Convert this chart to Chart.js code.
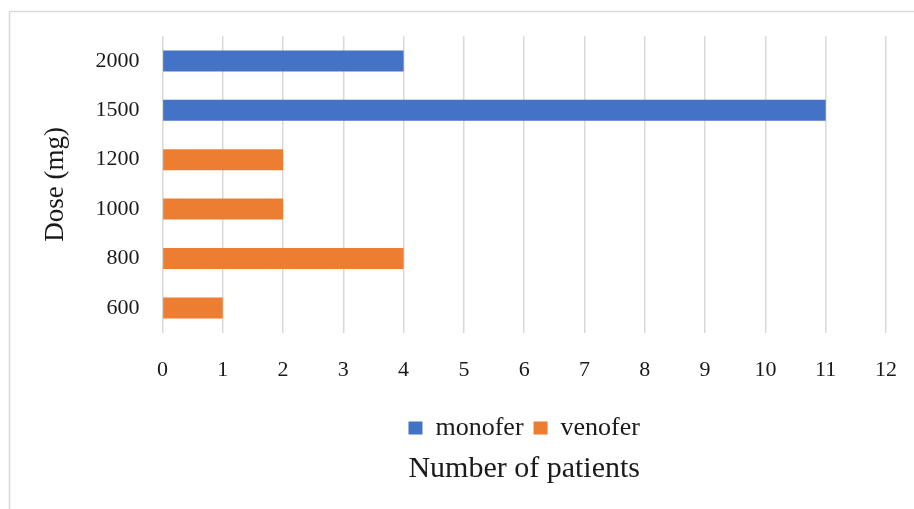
<!DOCTYPE html>
<html>
<head>
<meta charset="utf-8">
<script src="https://cdn.jsdelivr.net/npm/chart.js@4.4.1/dist/chart.umd.min.js"></script>
<style>
  html, body { margin: 0; padding: 0; background: #fff; }
  #wrap { position: relative; width: 914px; height: 509px; }
</style>
</head>
<body>
<div id="wrap"><canvas id="myChart" width="914" height="509"></canvas></div>
<script>
"use strict";

// doses, top to bottom as in the picture
let doseLabels = ["2000", "1500", "1200", "1000", "800", "600"];
let monoferPatients = [4, 11, null, null, null, null];
let venoferPatients = [null, null, 2, 2, 4, 1];
let xTicks = [0, 1, 2, 3, 4, 5, 6, 7, 8, 9, 10, 11, 12];

const serif = "'Liberation Serif', 'Times New Roman', serif";
const textColor = "#1a1a1a";

// light frame round the chart (its right and bottom edges are off the picture)
const framePlugin = {
  id: "frame",
  beforeDraw(chart) {
    const ctx = chart.ctx;
    ctx.save();
    ctx.fillStyle = "#fff";
    ctx.fillRect(0, 0, chart.width, chart.height);
    ctx.strokeStyle = "#d9d9d9";
    ctx.lineWidth = 1.5;
    ctx.strokeRect(9.5, 11.5, 1200, 1200);
    ctx.restore();
  },
};

const data = {
  labels: doseLabels,
  datasets: [
    {
      label: "monofer",
      data: monoferPatients,
      backgroundColor: "#4472C4",
      borderWidth: 0,
    },
    {
      label: "venofer",
      data: venoferPatients,
      backgroundColor: "#ED7D31",
      borderWidth: 0,
    },
  ],
};

const config = {
  type: "bar",
  data: data,
  plugins: [framePlugin],
  options: {
    indexAxis: "y",
    responsive: false,
    animation: false,
    categoryPercentage: 0.5,
    barPercentage: 0.85,
    layout: {
      padding: { left: 36, top: 36, right: 28, bottom: 22 },
    },
    scales: {
      x: {
        stacked: true,
        min: 0,
        max: 12,
        afterBuildTicks: (scale) => {
          scale.ticks = xTicks.map((v) => ({ value: v }));
        },
        afterFit: (scale) => {
          scale.height -= 2;
          // the tick padding is only wanted below the plot, not at the ends
          scale.paddingLeft = 0;
          scale.paddingRight = 0;
        },
        grid: { color: "#d9d9d9", lineWidth: 1.5, drawTicks: false },
        border: { display: false },
        ticks: {
          padding: 24,
          color: textColor,
          font: { family: serif, size: 22 },
        },
      },
      y: {
        stacked: true,
        grid: { display: false, drawTicks: false },
        border: { display: false },
        ticks: {
          padding: 23,
          color: textColor,
          font: { family: serif, size: 22 },
        },
        title: {
          display: true,
          text: "Dose (mg)",
          color: textColor,
          font: { family: serif, size: 27 },
          padding: { top: 4, bottom: 0 },
        },
      },
    },
    plugins: {
      legend: {
        position: "bottom",
        fullSize: false,
        labels: {
          boxWidth: 14,
          boxHeight: 13,
          padding: 10,
          color: textColor,
          font: { family: serif, size: 26 },
        },
      },
      title: {
        display: true,
        position: "bottom",
        fullSize: false,
        text: "Number of patients",
        color: textColor,
        font: { family: serif, size: 30, weight: "normal" },
        padding: { top: 0, bottom: 0 },
      },
      tooltip: { enabled: false },
    },
  },
};

const canvasChart = document.getElementById("myChart");
new Chart(canvasChart, config);
</script>
</body>
</html>
